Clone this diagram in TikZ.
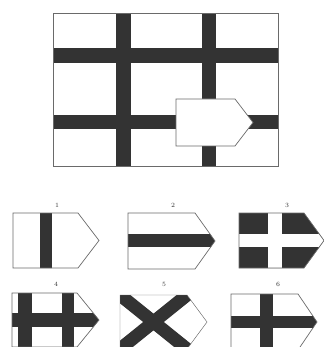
\documentclass[tikz,border=0pt]{standalone}
\usepackage{xcolor}
\usepackage{tikz}
\definecolor{barink}{HTML}{333333}
\definecolor{edgeink}{HTML}{6A6A6A}
\tikzset{
  outline/.style={draw=edgeink,line width=0.6pt},
  bar/.style    ={fill=barink},
  gap/.style    ={fill=white},
  slash/.style  ={draw=barink,line width=13*0.03cm},
  numlbl/.style ={font=\fontsize{5.5}{6}\selectfont,text=black!80,inner sep=0pt}
}
% pentagon: left, top, corner, tip, bottom
\newcommand{\flagpath}[5]{(#1,#2) -- (#3,#2) -- (#4,{(#2+#5)/2}) -- (#3,#5) -- (#1,#5) -- cycle}

\begin{document}
\begin{tikzpicture}[x=0.03cm,y=-0.03cm]
        \useasboundingbox (0,0) rectangle (323,347);
        % the grid with the covered piece
        \fill[bar] (116,13) rectangle (131,166);
        \fill[bar] (202,13) rectangle (216,166);
        \fill[bar] (53,48) rectangle (278,63);
        \fill[bar] (53,115) rectangle (278,129);
        \draw[outline] (53,13) rectangle (278,166);
        \filldraw[outline,fill=white] \flagpath{176}{99}{235}{253}{146};
        % option 1
        \begin{scope}
          \clip \flagpath{13}{213}{78}{99}{268};
          \fill[bar] (40,200) rectangle (52,280);
        \end{scope}
        \draw[outline] \flagpath{13}{213}{78}{99}{268};
        \node[numlbl] (lbla) at (57,205) {1};
        % option 2
        \begin{scope}
          \clip \flagpath{128}{213}{195}{215}{269};
          \fill[bar] (120,234) rectangle (220,247);
        \end{scope}
        \draw[outline] \flagpath{128}{213}{195}{215}{269};
        \node[numlbl] (lblb) at (173,205) {2};
        % option 3
        \begin{scope}
          \clip \flagpath{239}{213}{304}{324}{268};
          \fill[bar] (230,200) rectangle (330,280);
          \fill[gap] (268,200) rectangle (282,280);
          \fill[gap] (230,234) rectangle (330,247);
        \end{scope}
        \draw[outline] \flagpath{239}{213}{304}{324}{268};
        \node[numlbl] (lblc) at (287,205) {3};
        % option 4
        \begin{scope}
          \clip \flagpath{12}{293}{77}{99}{347};
          \fill[bar] (18,285) rectangle (32,355);
          \fill[bar] (62,285) rectangle (74,355);
          \fill[bar] (5,313) rectangle (105,327);
        \end{scope}
        \draw[outline] \flagpath{12}{293}{77}{99}{347};
        \node[numlbl] (lbld) at (56,284) {4};
        % option 5
        \begin{scope}
          \clip \flagpath{120}{295}{187}{207}{349};
          \draw[slash] (120,295) -- (187,349);
          \draw[slash] (187,295) -- (120,349);
        \end{scope}
        \draw[outline,line width=0.4pt] \flagpath{120}{295}{187}{207}{349};
        \node[numlbl] (lble) at (164,284) {5};
        % option 6
        \begin{scope}
          \clip \flagpath{231}{294}{298}{317}{350};
          \fill[bar] (260,285) rectangle (273,355);
          \fill[bar] (225,316) rectangle (320,328);
        \end{scope}
        \draw[outline] \flagpath{231}{294}{298}{317}{350};
        \node[numlbl] (lblf) at (278,284) {6};
      \end{tikzpicture}
\end{document}
